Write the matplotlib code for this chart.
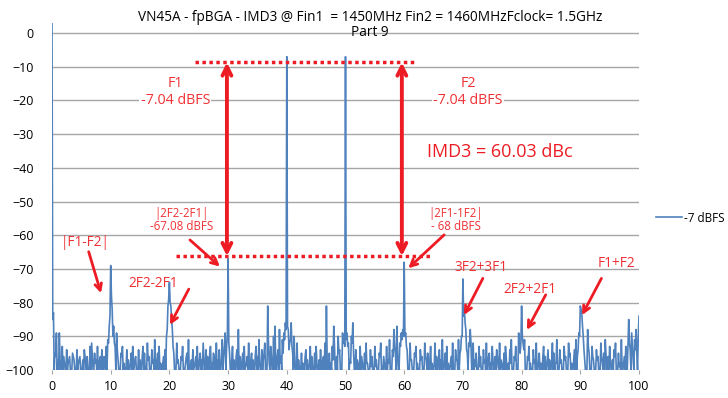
import numpy as np
import matplotlib
matplotlib.use("Agg")
from matplotlib import pyplot as plt

# spectrum level (dBFS) on the main bins, spacing 0.25 (0 .. 100)
level = [
    3, -83, -95, -89, -97, -89, -100, -93, -96, -100, -94, -98, -96, -100, -95, -97, -100, -94, -98, -96,           # 0
    -100, -97, -94, -99, -96, -100, -93, -92, -100, -95, -97, -93, -100, -96, -94, -100, -97, -93, -91, -87,        # 5
    -69, -82, -87, -93, -89, -97, -100, -95, -93, -98, -100, -94, -97, -100, -95, -93, -99, -96, -100, -94,         # 10
    -97, -100, -93, -95, -99, -92, -96, -100, -94, -97, -91, -100, -95, -93, -98, -100, -96, -94, -90, -81,         # 15
    -74, -81, -88, -95, -100, -92, -97, -100, -96, -93, -100, -98, -95, -91, -100, -97, -94, -99, -96, -93,         # 20
    -100, -95, -97, -92, -100, -94, -96, -100, -93, -98, -95, -100, -92, -97, -94, -100, -91, -96, -89, -93,        # 25
    -67, -95, -100, -93, -97, -100, -94, -88, -96, -100, -95, -93, -99, -96, -92, -100, -95, -97, -100, -93,        # 30
    -96, -91, -100, -94, -97, -92, -100, -81, -98, -93, -100, -90, -87, -100, -94, -88, -96, -91, -89, -86,         # 35
    -7, -88, -92, -86, -95, -90, -100, -92, -97, -100, -95, -98, -100, -94, -97, -100, -93, -96, -100, -95,         # 40
    -93, -100, -97, -94, -100, -96, -92, -81, -100, -95, -98, -93, -87, -100, -96, -90, -94, -100, -89, -90,        # 45
    -7, -89, -92, -97, -90, -86, -100, -94, -97, -100, -93, -96, -100, -95, -92, -98, -100, -94, -96, -100,         # 50
    -93, -97, -100, -95, -92, -99, -96, -100, -93, -97, -91, -100, -94, -88, -95, -87, -100, -92, -89, -88,         # 55
    -68, -89, -94, -100, -92, -97, -100, -95, -93, -98, -100, -94, -96, -100, -92, -97, -95, -100, -93, -98,        # 60
    -100, -92, -96, -100, -94, -97, -91, -100, -95, -93, -98, -100, -96, -92, -100, -94, -97, -91, -95, -90,        # 65
    -73, -82, -88, -95, -92, -88, -100, -92, -97, -95, -100, -93, -96, -100, -94, -97, -92, -100, -95, -98,         # 70
    -93, -100, -96, -94, -99, -92, -97, -100, -95, -93, -100, -98, -94, -91, -100, -96, -93, -100, -89, -95,        # 75
    -81, -92, -91, -100, -96, -93, -98, -100, -94, -97, -92, -100, -95, -98, -100, -93, -96, -100, -94, -97,        # 80
    -100, -92, -95, -98, -91, -100, -94, -97, -100, -93, -96, -100, -92, -95, -98, -100, -94, -91, -96, -89,        # 85
    -81, -83, -90, -97, -100, -88, -95, -100, -93, -97, -100, -94, -96, -100, -92, -98, -95, -91, -100, -96,        # 90
    -93, -100, -97, -94, -92, -100, -95, -98, -91, -100, -96, -93, -100, -85, -94, -89, -97, -91, -88, -100,        # 95
    -84,                                                                                                            # 100
]

# level on the in-between bins (0.125, 0.375, ... 99.875); the floor sits at -100
level_mid = [
    -85, -100, -96, -100, -100, -97, -100, -100, -98, -100, -100, -97, -100, -100, -96, -100, -100, -100, -97, -100,   # 0
    -100, -100, -96, -100, -100, -100, -100, -96, -100, -98, -100, -100, -97, -100, -100, -96, -100, -100, -92, -84,   # 5
    -78, -90, -92, -100, -94, -100, -100, -96, -100, -100, -99, -100, -100, -98, -100, -100, -97, -100, -100, -100,    # 10
    -100, -96, -100, -100, -100, -97, -100, -100, -98, -100, -100, -97, -100, -100, -100, -98, -100, -100, -88, -79,   # 15
    -80, -85, -93, -100, -100, -98, -100, -100, -97, -100, -100, -96, -100, -100, -99, -100, -100, -98, -100, -100,    # 20
    -97, -100, -100, -96, -100, -100, -100, -95, -100, -100, -96, -100, -100, -100, -100, -97, -100, -93, -100, -90,   # 25
    -92, -100, -97, -100, -100, -96, -100, -100, -100, -97, -100, -100, -98, -100, -100, -97, -100, -100, -96, -100,   # 30
    -100, -98, -100, -100, -95, -100, -100, -92, -100, -96, -100, -100, -100, -96, -100, -98, -100, -95, -91, -88,     # 35
    -87, -94, -91, -93, -100, -98, -100, -100, -99, -100, -100, -100, -96, -100, -100, -98, -100, -100, -99, -100,     # 40
    -98, -100, -100, -100, -97, -100, -100, -97, -100, -100, -100, -97, -93, -100, -100, -95, -100, -100, -92, -93,    # 45
    -91, -93, -100, -98, -92, -95, -100, -100, -98, -100, -100, -98, -100, -100, -98, -100, -100, -99, -100, -100,     # 50
    -99, -100, -100, -96, -100, -100, -98, -100, -100, -98, -100, -100, -96, -93, -100, -95, -100, -93, -91, -90,      # 55
    -90, -93, -100, -100, -97, -100, -100, -96, -100, -100, -100, -97, -100, -100, -96, -100, -100, -97, -100, -100,   # 60
    -98, -100, -100, -96, -100, -100, -100, -98, -100, -100, -100, -98, -100, -100, -100, -97, -100, -100, -94, -90,   # 65
    -84, -86, -94, -100, -93, -92, -100, -100, -99, -100, -100, -99, -100, -100, -98, -100, -100, -96, -100, -100,     # 70
    -97, -100, -100, -96, -100, -100, -98, -100, -100, -96, -100, -100, -98, -100, -100, -97, -100, -100, -93, -92,    # 75
    -90, -94, -100, -100, -97, -100, -100, -100, -98, -100, -100, -98, -100, -100, -96, -100, -100, -97, -100, -100,   # 80
    -97, -100, -100, -98, -100, -100, -98, -100, -100, -97, -100, -100, -96, -100, -100, -97, -100, -100, -94, -90,    # 85
    -82, -87, -94, -100, -100, -93, -100, -100, -96, -100, -100, -97, -100, -100, -96, -100, -100, -95, -100, -100,    # 90
    -97, -100, -100, -96, -100, -100, -99, -100, -100, -98, -100, -100, -93, -92, -100, -93, -100, -94, -95, -90,      # 95
]

bin_width = 0.25
freq_main = np.arange(len(level)) * bin_width
freq_mid = np.arange(len(level_mid)) * bin_width + bin_width / 2
freq = np.concatenate([freq_main, freq_mid])
spec = np.concatenate([level, level_mid])
order = np.argsort(freq)
freq, spec = freq[order], spec[order]

series_name = "-7 dBFS"
title = "VN45A - fpBGA - IMD3 @ Fin1  = 1450MHz Fin2 = 1460MHzFclock= 1.5GHz\nPart 9"
xticks = list(range(0, 101, 10))
yticks = list(range(0, -101, -10))

blue = "#4F81BD"
red = "#ED1C24"
text_red = "#EF3034"
grid = "#A6A6A6"

plt.rcParams["font.family"] = ["Open Sans", "DejaVu Sans"]

fig = plt.figure(figsize=(7.28, 3.98), dpi=100)
ax = fig.add_axes([52 / 728, 1 - 370 / 398, 587 / 728, 347 / 398])

line, = ax.plot(freq, spec, color=blue, lw=1.2, label=series_name)
ax.set_xlim(0, 100)
ax.set_ylim(-100, 3)
ax.set_xticks(xticks)
ax.set_yticks(yticks)
ax.yaxis.grid(True, color=grid, lw=1)
ax.set_axisbelow(True)
for s in ax.spines.values():
    s.set_visible(False)
ax.tick_params(axis="y", length=0, pad=13, labelsize=9)
ax.tick_params(axis="x", length=3, color=grid, pad=4, labelsize=9)

fig.text(0.508, 0.975, title, ha="center", va="top", fontsize=9.8,
         linespacing=1.0)

fig.legend(handles=[line], loc="center left", bbox_to_anchor=(645 / 728, 1 - 218 / 398),
           frameon=False, fontsize=8.5, handlelength=2.2, handletextpad=0.2)

# reference levels and IMD3 span
ax.plot([24.4, 61.7], [-8.7, -8.7], color=red, lw=2.5, ls=(0, (1, 1)))
ax.plot([21.2, 64.8], [-66.2, -66.2], color=red, lw=2.5, ls=(0, (1, 1)))
for xv in [29.8, 59.6]:
    ax.annotate("", xy=(xv, -8.7), xytext=(xv, -66.2),
                arrowprops=dict(arrowstyle="<->", color=red, lw=2.8, mutation_scale=16,
                                shrinkA=0, shrinkB=0))

box = dict(facecolor="white", edgecolor="none", pad=1)
ax.text(21.0, -17.5, "F1\n-7.04 dBFS", color=text_red, ha="center", va="center", fontsize=10.3,
        linespacing=1.15, bbox=box)
ax.text(70.9, -17.5, "F2\n-7.04 dBFS", color=text_red, ha="center", va="center", fontsize=10.3,
        linespacing=1.15, bbox=box)
ax.text(76.3, -35.3, "IMD3 = 60.03 dBc", color=red, ha="center", va="center", fontsize=13)

labels = [
    ("|2F2-2F1|\n-67.08 dBFS", (22.0, -55.5), (23.5, -61.4), (28.6, -69.3), 8.3),
    ("|2F1-1F2|\n- 68 dBFS", (68.8, -55.5), (66.8, -59.9), (60.7, -69.8), 8.3),
    ("|F1-F2|", (5.6, -62.3), (6.25, -64.9), (8.35, -77.2), 9.8),
    ("2F2-2F1", (17.2, -74.3), (23.3, -76.0), (20.1, -86.6), 9.8),
    ("3F2+3F1", (73.0, -69.6), (73.4, -72.8), (70.2, -83.7), 9.8),
    ("2F2+2F1", (81.5, -76.1), (84.1, -77.7), (80.9, -88.1), 9.8),
    ("F1+F2", (96.2, -68.3), (93.6, -72.8), (90.3, -83.7), 9.8),
]
for txt, pos, start, end, fs in labels:
    ax.text(pos[0], pos[1], txt, color=text_red, ha="center", va="center", fontsize=fs,
            linespacing=1.05)
    ax.annotate("", xy=end, xytext=start,
                arrowprops=dict(arrowstyle="->", color=red, lw=2, mutation_scale=12,
                                shrinkA=0, shrinkB=0))

fig.savefig("out.png", dpi=100)
